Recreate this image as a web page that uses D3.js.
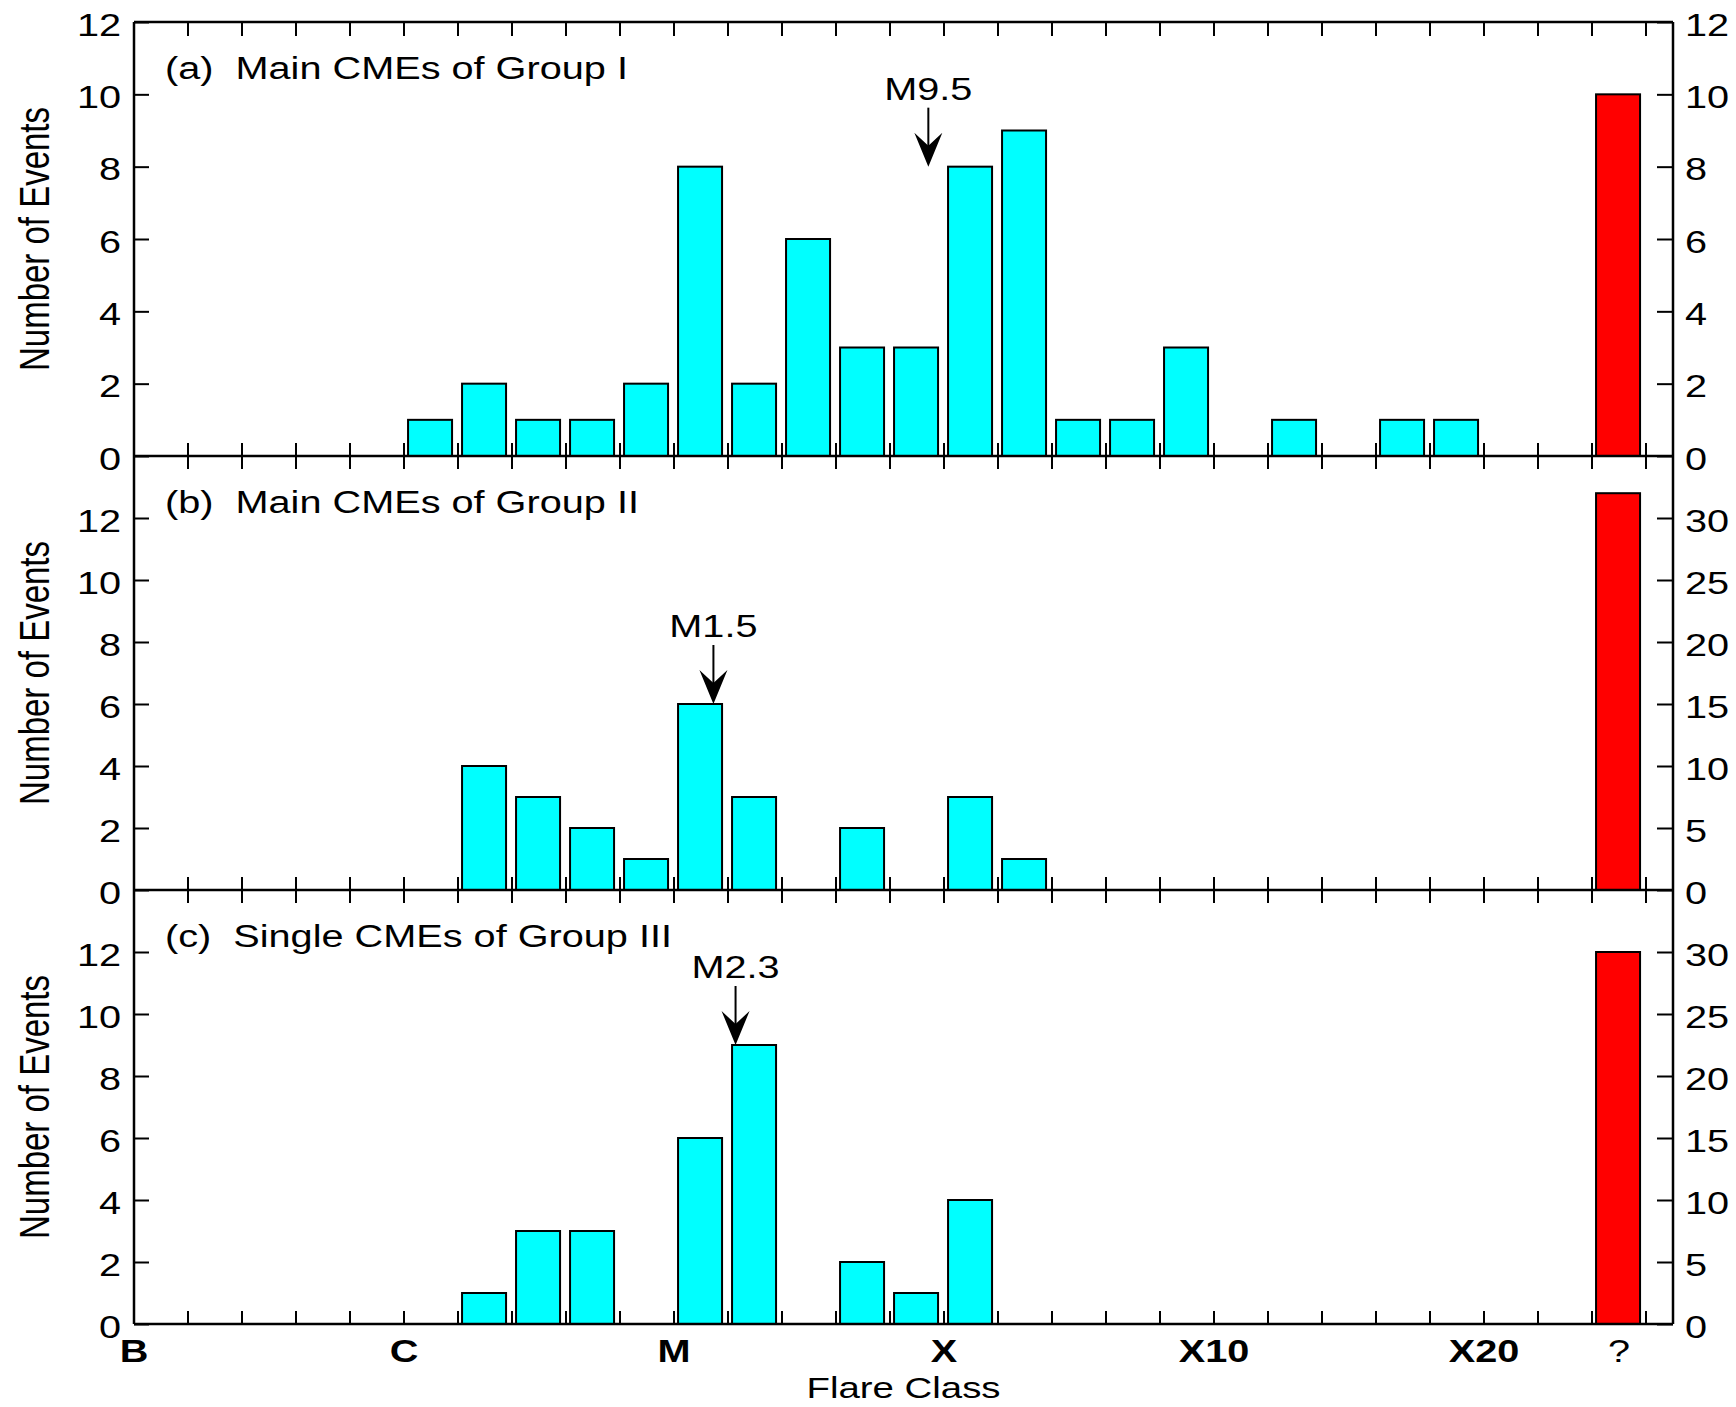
<!DOCTYPE html>
<html><head><meta charset="utf-8">
<script src="https://cdn.jsdelivr.net/npm/d3@7"></script>
<style>
body{margin:0;background:#fff}
svg{display:block}
text{font-family:"Liberation Sans",Arial,Helvetica,sans-serif;fill:#000}
</style>
</head><body>
<svg id="chart" width="1736" height="1407"></svg>
<script>
// ---------------- DATA ----------------
// flare-class bins (index 0 = B ... each class spans 5 bins); bin 27 = unknown "?"
const classLabels = ["B", "C", "M", "X", "X10", "X20"];
const classBins   = [0, 5, 10, 15, 20, 25];
const unknownLabel = "?";
const unknownBin = 27;

// counts per bin 0..26 (left axis)
const groupI   = [0,0,0,0,0,1,2,1,1,2,8,2,6,3,3,8,9,1,1,3,0,1,0,1,1,0,0];
const groupII  = [0,0,0,0,0,0,4,3,2,1,6,3,0,2,0,3,1,0,0,0,0,0,0,0,0,0,0];
const groupIII = [0,0,0,0,0,0,1,3,3,0,6,9,0,2,1,4,0,0,0,0,0,0,0,0,0,0,0];
// unknown-class counts (right axis)
const unknownCounts = [10, 32, 30];

const panelTitles = ["(a)  Main CMEs of Group I", "(b)  Main CMEs of Group II", "(c)  Single CMEs of Group III"];
const leftMax  = [12, 14, 14];
const rightMax = [12, 35, 35];
const leftTicks  = [[0,2,4,6,8,10,12],[0,2,4,6,8,10,12],[0,2,4,6,8,10,12]];
const rightTicks = [[0,2,4,6,8,10,12],[0,5,10,15,20,25,30],[0,5,10,15,20,25,30]];

// median markers: label, bin position, value the arrow points to
const markerLabels = ["M9.5", "M1.5", "M2.3"];
const markerPos    = [14.71, 10.73, 11.14];
const markerTarget = [8, 6, 9];

const yTitle = "Number of Events";
const xTitle = "Flare Class";

// ---------------- LAYOUT ----------------
const S = 1.28;               // horizontal text stretch of the original figure
const FS = 31;
const left = 134, top0 = 22, panelH = 434;
const svg = d3.select("#chart");
const x = d3.scaleLinear().domain([0, 28.5]).range([left, left + 28.5 * 54]);
const right = x(28.5);
const series = [groupI, groupII, groupIII];

function stretch(sel) {
  sel.each(function () {
    const t = d3.select(this);
    const tx = +t.attr("x") || 0, ty = +t.attr("y") || 0;
    t.attr("x", 0).attr("y", 0).attr("transform", `translate(${tx},${ty}) scale(${S},1)`);
  });
}

const barL = 0.075, barR = 0.89;

series.forEach((vals, p) => {
  const yTop = top0 + p * panelH, yBot = yTop + panelH;
  const yL = d3.scaleLinear().domain([0, leftMax[p]]).range([yBot, yTop]);
  const yR = d3.scaleLinear().domain([0, rightMax[p]]).range([yBot, yTop]);
  const g = svg.append("g");

  // bars
  const data = vals.map((v, i) => ({ i, v })).filter(d => d.v > 0);
  g.selectAll("rect.bar").data(data).join("rect")
    .attr("x", d => x(d.i + barL)).attr("width", d => x(d.i + barR) - x(d.i + barL))
    .attr("y", d => yL(d.v)).attr("height", d => yL(0) - yL(d.v))
    .attr("fill", "#00FFFF").attr("stroke", "#000").attr("stroke-width", 2);
  g.append("rect")
    .attr("x", x(unknownBin + barL)).attr("width", x(unknownBin + barR) - x(unknownBin + barL))
    .attr("y", yR(unknownCounts[p])).attr("height", yR(0) - yR(unknownCounts[p]))
    .attr("fill", "#FF0000").attr("stroke", "#000").attr("stroke-width", 2);

  // left axis
  const ga = g.append("g").attr("transform", `translate(${left},0)`)
    .call(d3.axisLeft(yL).tickValues(leftTicks[p]).tickSizeInner(-15).tickSizeOuter(0).tickPadding(13));
  ga.select(".domain").remove();
  ga.selectAll("line").attr("stroke", "#000").attr("stroke-width", 2);
  ga.selectAll("text").attr("font-size", FS).attr("dy", "0.42em")
    .attr("font-family", '"Liberation Sans",Arial,sans-serif').call(stretch);

  // right axis
  const gr = g.append("g").attr("transform", `translate(${right},0)`)
    .call(d3.axisRight(yR).tickValues(rightTicks[p]).tickSizeInner(-16).tickSizeOuter(0).tickPadding(12));
  gr.select(".domain").remove();
  gr.selectAll("line").attr("stroke", "#000").attr("stroke-width", 2);
  gr.selectAll("text").attr("font-size", FS).attr("dy", "0.42em")
    .attr("font-family", '"Liberation Sans",Arial,sans-serif').call(stretch);

  // panel title
  g.append("text").attr("x", 165).attr("y", yTop + 57)
    .attr("font-size", FS).style("white-space", "pre").text(panelTitles[p]).call(stretch);

  // y title
  g.append("g").attr("transform", `translate(49,${(yTop + yBot) / 2}) scale(${S},1) rotate(-90)`)
    .append("text").attr("text-anchor", "middle").attr("font-size", 33).text(yTitle);

  // median marker arrow
  const ax = x(markerPos[p]), tipY = yL(markerTarget[p]);
  const lineLen = 59;
  g.append("line").attr("x1", ax).attr("x2", ax).attr("y1", tipY - lineLen).attr("y2", tipY - 12)
    .attr("stroke", "#000").attr("stroke-width", 2);
  g.append("path").attr("transform", `translate(${ax},${tipY})`)
    .attr("d", "M0,0 L-14,-34 L0,-21 L14,-34 Z").attr("fill", "#000");
  g.append("text").attr("x", ax).attr("y", tipY - lineLen - 8).attr("text-anchor", "middle")
    .attr("font-size", FS).text(markerLabels[p]).call(stretch);
});

// frame lines
const bottom = top0 + 3 * panelH;
const frame = svg.append("g").attr("stroke", "#000").attr("stroke-width", 2.5).attr("fill", "none");
[0, 1, 2, 3].forEach(k => {
  frame.append("line").attr("x1", left).attr("x2", right)
    .attr("y1", top0 + k * panelH).attr("y2", top0 + k * panelH);
});
frame.append("line").attr("x1", left).attr("x2", left).attr("y1", top0).attr("y2", bottom);
frame.append("line").attr("x1", right).attr("x2", right).attr("y1", top0).attr("y2", bottom);

// x ticks on every horizontal boundary
const tickIdx = d3.range(1, 29);
const bounds = [
  { y: top0, up: 0, down: 14 },
  { y: top0 + panelH, up: 13, down: 13 },
  { y: top0 + 2 * panelH, up: 13, down: 13 },
  { y: bottom, up: 13, down: 0 }
];
bounds.forEach(b => {
  svg.append("g").selectAll("line").data(tickIdx).join("line")
    .attr("x1", d => x(d)).attr("x2", d => x(d))
    .attr("y1", b.y - b.up).attr("y2", b.y + b.down)
    .attr("stroke", "#000").attr("stroke-width", 2);
});

// x tick labels
const xl = svg.append("g");
xl.selectAll("text.cls").data(classLabels).join("text")
  .attr("x", (d, i) => x(classBins[i])).attr("y", bottom + 38)
  .attr("text-anchor", "middle").attr("font-size", FS).attr("font-weight", "bold")
  .text(d => d).call(stretch);
xl.append("text").attr("x", x(unknownBin + 0.5)).attr("y", bottom + 38)
  .attr("text-anchor", "middle").attr("font-size", FS)
  .text(unknownLabel).call(stretch);

// x title
svg.append("text").attr("x", (left + right) / 2).attr("y", bottom + 74)
  .attr("text-anchor", "middle").attr("font-size", 30).text(xTitle).call(stretch);
</script>
</body></html>
